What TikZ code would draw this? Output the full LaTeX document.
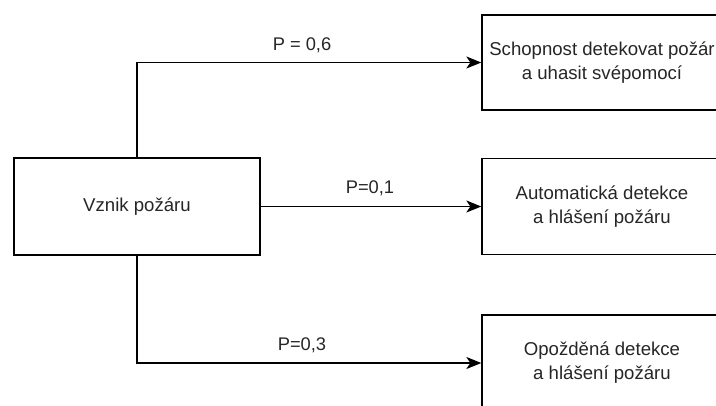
\documentclass[tikz,border=0pt]{standalone}
\usepackage{fontspec}
\setmainfont{Liberation Sans}
\usetikzlibrary{arrows.meta}
\begin{document}
\begin{tikzpicture}[x=1pt,y=-1pt,
  box/.style={draw=black, line width=1.3pt, fill=white, inner sep=0pt, align=center,
    font=\fontsize{18.6}{24}\selectfont, text=black!85},
  lbl/.style={font=\fontsize{18.3}{22}\selectfont, text=black!85, inner sep=0pt},
  conn/.style={draw=black, line width=1.3pt, -{Stealth[length=15pt,width=12pt,inset=4pt]}}]
\useasboundingbox (0,0) rectangle (716,405);
\clip (0,0) rectangle (716,405);
\node[box, minimum width=246pt, minimum height=97pt] (src) at (137,206.5) {Vznik požáru};
\node[box, minimum width=240pt, minimum height=95pt] (top) at (602,62.5) {Schopnost detekovat požár\\a uhasit svépomocí};
\node[box, minimum width=240pt, minimum height=96pt] (mid) at (602,206.5) {Automatická detekce\\a hlášení požáru};
\node[box, minimum width=240pt, minimum height=96pt] (bot) at (602,363) {Opožděná detekce\\a hlášení požáru};
\draw[conn] (src.north) |- (top.west);
\draw[conn] (src.east) -- (mid.west);
\draw[conn] (src.south) |- (bot.west);
\node[lbl] (l1) at (302,45) {P = 0,6};
\node[lbl] (l2) at (370,188) {P=0,1};
\node[lbl] (l3) at (302,345) {P=0,3};
\end{tikzpicture}
\end{document}
